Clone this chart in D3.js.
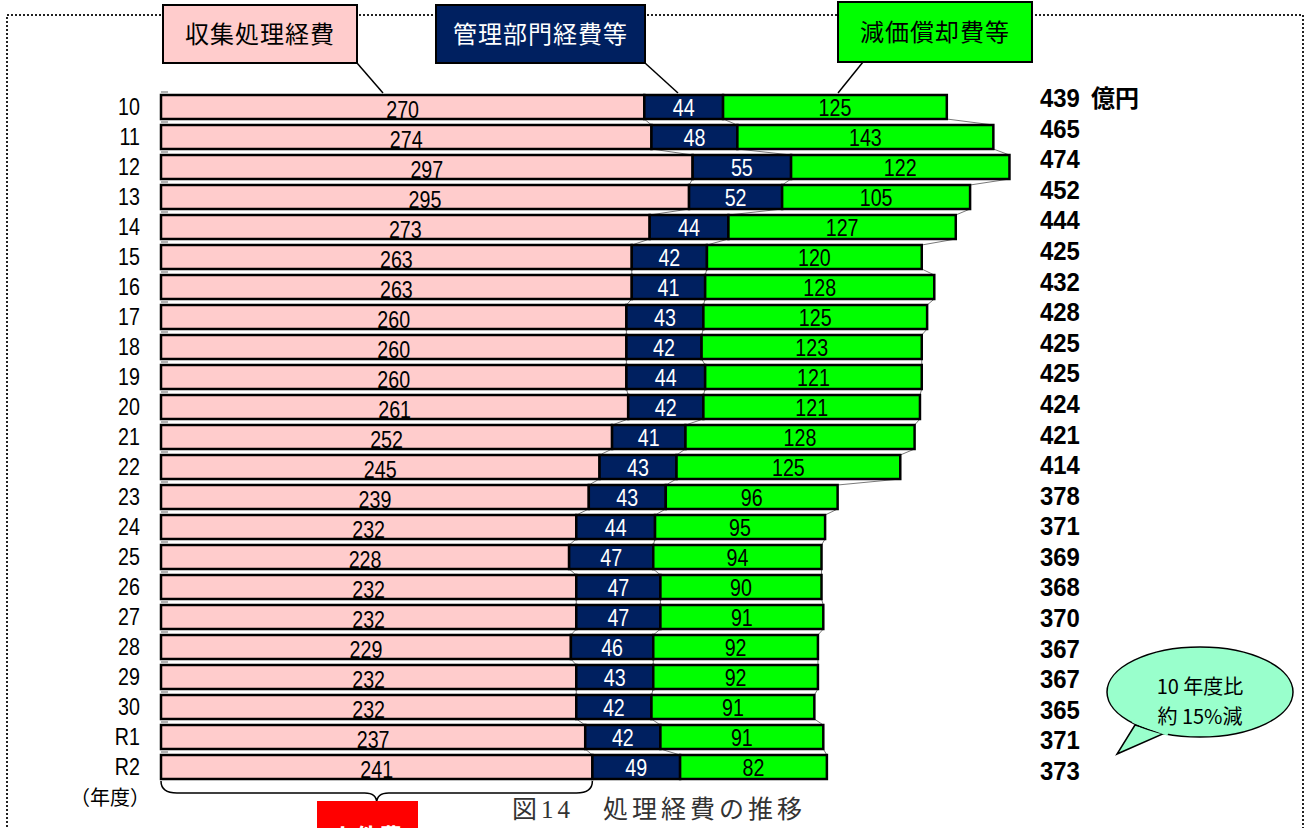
<!DOCTYPE html>
<html>
<head>
<meta charset="utf-8">
<script src="https://cdn.jsdelivr.net/npm/d3@7"></script>
<style>
  body { margin: 0; background: #fff; }
  svg { display: block; }
</style>
</head>
<body>
<svg id="chart" width="1306" height="828"></svg>
<script>
const years = ['10','11','12','13','14','15','16','17','18','19','20','21','22','23','24','25','26','27','28','29','30','R1','R2']
const collection = [270,274,297,295,273,263,263,260,260,260,261,252,245,239,232,228,232,232,229,232,232,237,241]
const admin = [44,48,55,52,44,42,41,43,42,44,42,41,43,43,44,47,47,47,46,43,42,42,49]
const depreciation = [125,143,122,105,127,120,128,125,123,121,121,128,125,96,95,94,90,91,92,92,91,91,82]
const totals = [439,465,474,452,444,425,432,428,425,425,424,421,414,378,371,369,368,370,367,367,365,371,373]
const seriesNames = ['収集処理経費', '管理部門経費等', '減価償却費等']

const sans = '"Liberation Sans", Arial, sans-serif'
const jp = '"Noto Sans CJK JP", sans-serif'
const squeeze = 0.82

const svg = d3.select('#chart')

const rows = years.map((y, i) => ({year: y, c: collection[i], a: admin[i], d: depreciation[i], total: totals[i]}))
const keys = ['c', 'a', 'd']
const fills = ['#ffcccc', '#002060', '#00ff00']
const textFill = ['#000', '#fff', '#000']

const x = d3.scaleLinear().domain([0, 100]).range([161, 340])
const y = d3.scaleBand().domain(years).range([92, 782]).paddingInner(0.2).paddingOuter(0.1)
const yTot = d3.scalePoint().domain(years).range([97, 770])

const stacked = d3.stack().keys(keys)(rows)

// dotted frame
svg.append('rect')
  .attr('x', 7).attr('y', 15).attr('width', 1296).attr('height', 840)
  .attr('fill', 'none').attr('stroke', '#222').attr('stroke-width', 2)
  .attr('stroke-dasharray', '2 2')

// small ticks at band edges
svg.append('g').selectAll('line')
  .data(years)
  .join('line')
  .attr('x1', 161).attr('x2', 168)
  .attr('y1', d => y(d) - 3).attr('y2', d => y(d) - 3)
  .attr('stroke', '#999').attr('stroke-width', 1.5)

// series lines between bars
const connectors = svg.append('g')
stacked.forEach(layer => {
  for (let i = 0; i < layer.length - 1; i++) {
    connectors.append('line')
      .attr('x1', x(layer[i][1])).attr('y1', y(years[i]) + y.bandwidth())
      .attr('x2', x(layer[i + 1][1])).attr('y2', y(years[i + 1]))
      .attr('stroke', '#555').attr('stroke-width', 0.8)
  }
})

// bars
const layers = svg.append('g')
  .selectAll('g')
  .data(stacked)
  .join('g')
  .attr('fill', (d, i) => fills[i])

layers.selectAll('rect')
  .data(d => d)
  .join('rect')
  .attr('x', d => x(d[0]))
  .attr('y', d => y(d.data.year))
  .attr('width', d => x(d[1]) - x(d[0]))
  .attr('height', y.bandwidth())
  .attr('stroke', '#000')
  .attr('stroke-width', 2.5)

// value labels (narrowed like the original condensed face)
stacked.forEach((layer, k) => {
  svg.append('g')
    .attr('font-family', sans)
    .attr('font-size', 24)
    .attr('text-anchor', 'middle')
    .attr('fill', textFill[k])
    .selectAll('text')
    .data(layer)
    .join('text')
    .attr('transform', d => `translate(${(x(d[0]) + x(d[1])) / 2},${y(d.data.year) + y.bandwidth() / 2 + (k === 0 ? 11 : 9)}) scale(${squeeze},1)`)
    .text(d => d[1] - d[0])
})

// category labels
svg.append('g')
  .attr('font-family', sans)
  .attr('font-size', 24)
  .attr('text-anchor', 'end')
  .selectAll('text')
  .data(years)
  .join('text')
  .attr('transform', d => `translate(140,${y(d) + y.bandwidth() / 2 + 8}) scale(${squeeze},1)`)
  .text(d => d)

svg.append('text')
  .attr('x', 150).attr('y', 805)
  .attr('text-anchor', 'end')
  .attr('font-family', jp).attr('font-size', 20)
  .text('（年度）')

// totals
const tot = svg.append('g')
  .attr('font-family', sans)
  .attr('font-weight', 'bold')
  .attr('font-size', 26)
tot.selectAll('text')
  .data(rows)
  .join('text')
  .attr('transform', d => `translate(1040,${yTot(d.year) + 10}) scale(0.92,1)`)
  .text(d => d.total)
tot.append('text')
  .attr('x', 1091).attr('y', yTot(years[0]) + 10)
  .attr('font-family', jp).attr('font-size', 24)
  .text('億円')

// legend boxes with leader lines
const legend = [
  {x0: 163, x1: 357, y0: 5, y1: 63, lx: 383, ly: 93},
  {x0: 436, x1: 645, y0: 5, y1: 63, lx: 678, ly: 93},
  {x0: 838, x1: 1032, y0: 2, y1: 62, lx: 838, ly: 93, sx: 863}
]
legend.forEach((b, i) => {
  svg.append('line')
    .attr('x1', b.sx || b.x1).attr('y1', b.y1)
    .attr('x2', b.lx).attr('y2', b.ly)
    .attr('stroke', '#000').attr('stroke-width', 1.5)
  svg.append('rect')
    .attr('x', b.x0).attr('y', b.y0)
    .attr('width', b.x1 - b.x0).attr('height', b.y1 - b.y0)
    .attr('fill', fills[i]).attr('stroke', '#000').attr('stroke-width', 2)
  svg.append('text')
    .attr('x', (b.x0 + b.x1) / 2).attr('y', (b.y0 + b.y1) / 2 + 9)
    .attr('text-anchor', 'middle')
    .attr('font-family', jp).attr('font-size', 24)
    .attr('letter-spacing', 1)
    .attr('fill', i === 1 ? '#fff' : '#000')
    .text(seriesNames[i])
})

// brace under the last collection bar
const last = stacked[0][stacked[0].length - 1]
const bx0 = x(0), bx1 = x(last[1]), bm = (bx0 + bx1) / 2
const by = y(years[years.length - 1]) + y.bandwidth() + 2
svg.append('path')
  .attr('d', `M${bx0},${by} Q${bx0},${by + 12} ${bx0 + 16},${by + 12} L${bm - 12},${by + 12} Q${bm},${by + 12} ${bm},${by + 22} Q${bm},${by + 12} ${bm + 12},${by + 12} L${bx1 - 16},${by + 12} Q${bx1},${by + 12} ${bx1},${by}`)
  .attr('fill', 'none').attr('stroke', '#000').attr('stroke-width', 1.5)

svg.append('rect')
  .attr('x', 317).attr('y', 801).attr('width', 101).attr('height', 40)
  .attr('fill', '#ff0000')
svg.append('text')
  .attr('x', 367).attr('y', 846)
  .attr('text-anchor', 'middle')
  .attr('font-family', jp).attr('font-size', 24).attr('font-weight', 'bold')
  .attr('fill', '#fff')
  .text('人件費')

// caption
svg.append('text')
  .attr('x', 512).attr('y', 818)
  .attr('font-family', '"Liberation Serif", "Noto Sans CJK JP", serif')
  .attr('font-size', 25)
  .attr('letter-spacing', 4)
  .attr('fill', '#333')
  .text('図14　処理経費の推移')

// speech bubble
const bubble = svg.append('g')
bubble.append('path')
  .attr('d', 'M1135,725 L1117,754 L1165,733 Z')
  .attr('fill', '#99ffcc').attr('stroke', '#000').attr('stroke-width', 1.5)
bubble.append('ellipse')
  .attr('cx', 1200).attr('cy', 692).attr('rx', 93).attr('ry', 45)
  .attr('fill', '#99ffcc').attr('stroke', '#000').attr('stroke-width', 1.5)
bubble.append('path')
  .attr('d', 'M1133,721 L1168,734')
  .attr('stroke', '#99ffcc').attr('stroke-width', 4)
bubble.selectAll('text')
  .data(['10 年度比', '約 15%減'])
  .join('text')
  .attr('x', 1200)
  .attr('y', (d, i) => 694 + i * 30)
  .attr('text-anchor', 'middle')
  .attr('font-family', jp).attr('font-size', 20)
  .text(d => d)
</script>
</body>
</html>
